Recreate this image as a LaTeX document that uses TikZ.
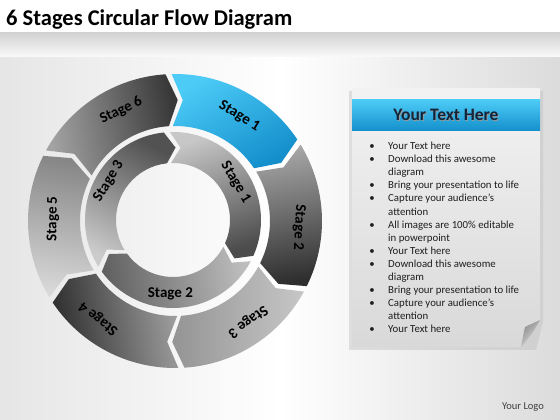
\documentclass[tikz,border=0pt]{standalone}
\usepackage{fontspec}
\setmainfont{Carlito}
\definecolor{bluelt}{HTML}{4CCBF6}
\definecolor{bluedk}{HTML}{148FCC}
\definecolor{navy}{HTML}{10253C}
\definecolor{txt}{HTML}{1E1E1E}
% #1 R, #2 r, #3 mid radius, #4 tail boundary, #5 head boundary, #6 tip depth, #7 half gap, #8 style
\newcommand{\chev}[8]{%
  \path[#8] ({#4+#6/2-#7}:#1) arc[start angle={#4+#6/2-#7}, end angle={#5+#6/2+#7}, radius=#1]
    -- ({#5-#6/2+#7}:#3) -- ({#5+#6/2+#7}:#2)
    arc[start angle={#5+#6/2+#7}, end angle={#4+#6/2-#7}, radius=#2]
    -- ({#4-#6/2-#7}:#3) -- cycle;}
\begin{document}
\begin{tikzpicture}[x=1pt,y=1pt,
  seglabel/.style={font=\bfseries\fontsize{15}{15}\selectfont, text=black, inner sep=0pt},
  bul/.style={font=\fontsize{10.8}{12}\selectfont, text=txt, anchor=base west, inner sep=0pt},
  bdot/.style={font=\fontsize{10.8}{12}\selectfont, text=txt, anchor=base, inner sep=0pt}]
\useasboundingbox (0,0) rectangle (560,420);
% background
\shade[left color=black!10, right color=black!14, middle color=white] (0,0) rectangle (560,420);
\shade[top color=black!18, bottom color=black!2] (0,363) rectangle (560,388);
\fill[white] (0,388) rectangle (560,420);
\node[anchor=base west, inner sep=0pt, font=\bfseries\fontsize{22.5}{24}\selectfont] (title) at (6,394) {6 Stages Circular Flow Diagram};

% outer ring
\begin{scope}[shift={(175,199)}]
  \chev{147}{95}{121}{150}{90}{5}{1.2}{top color=black!78, bottom color=black!36, shading angle=-80}
  \chev{147}{95}{121}{90}{30}{5}{1.2}{top color=bluelt, bottom color=bluedk, shading angle=30}
  \chev{147}{95}{121}{30}{-30}{5}{1.2}{top color=black!35, bottom color=black!82, shading angle=10}
  \chev{147}{95}{121}{-30}{-90}{5}{1.2}{top color=black!42, bottom color=black!22, shading angle=90}
  \chev{147}{95}{121}{-90}{-150}{5}{1.2}{top color=black!82, bottom color=black!38, shading angle=100}
  \chev{147}{95}{121}{-150}{-210}{5}{1.2}{top color=black!47, bottom color=black!15, shading angle=-10}
  \node[seglabel, rotate=-31.5] (o1) at (58.5:123) {Stage 1};
  \node[seglabel, rotate=-93] (o2) at (-3:124) {Stage 2};
  \node[seglabel, rotate=-144] (o3) at (-54:124) {Stage 3};
  \node[seglabel, rotate=142] (o4) at (-128:124) {Stage 4};
  \node[seglabel, rotate=89] (o5) at (179:122) {Stage 5};
  \node[seglabel, rotate=26] (o6) at (116:123) {Stage 6};
\end{scope}
% inner ring
\begin{scope}[shift={(173,200)}]
  \chev{88}{57}{72.5}{90}{-30}{8}{2}{top color=black!22, bottom color=black!70, shading angle=20}
  \chev{88}{57}{72.5}{-30}{-150}{8}{2}{top color=black!62, bottom color=black!26, shading angle=100}
  \chev{88}{57}{72.5}{-150}{-270}{8}{2}{top color=black!68, bottom color=black!20, shading angle=-30}
  \node[seglabel, rotate=-59] (i1) at (31:73) {Stage 1};
  \node[seglabel] (i2) at (-92:74) {Stage 2};
  \node[seglabel, rotate=59] (i3) at (149:75) {Stage 3};
\end{scope}

% paper panel
\fill[black!25, opacity=0.45] (349,70) -- (536,70) -- (543,98) -- (543,329) -- (349,329) -- cycle;
\shade[top color=black!5, bottom color=black!15] (352,332) -- (540,332) -- (540,100) .. controls (532,88) .. (521,73) -- (352,73) -- cycle;
\shade[top color=black!45, bottom color=black!12, shading angle=45] (540,100) .. controls (533,96) .. (525,93) .. controls (523,84) .. (521,73) .. controls (532,86) .. cycle;
\shade[top color=bluelt, bottom color=bluedk] (352,320) rectangle (540,289);
\node[font=\bfseries\fontsize{17.5}{18}\selectfont, text=black!40, inner sep=0pt] (hdrsh) at (446.8,304.2) {Your Text Here};
\node[font=\bfseries\fontsize{17.5}{18}\selectfont, text=navy, inner sep=0pt] (hdr) at (446,305) {Your Text Here};

\foreach \k/\b/\t in {0/1/Your Text here,
  1/1/Download this awesome,
  2/0/diagram,
  3/1/Bring your presentation to life,
  4/1/Capture your audience’s,
  5/0/attention,
  6/1/All images are 100\% editable,
  7/0/in powerpoint,
  8/1/Your Text here,
  9/1/Download this awesome,
  10/0/diagram,
  11/1/Bring your presentation to life,
  12/1/Capture your audience’s,
  13/0/attention,
  14/1/Your Text here}{
  \node[bul] (line\k) at (388,{420-146-13.1*\k-3.6}) {\t};
  \ifnum\b=1 \node[bdot] (dot\k) at (372,{420-146-13.1*\k-3.6}) {\textbullet};\fi
}
\node[font=\fontsize{10.5}{11}\selectfont, text=black!75, inner sep=0pt] (logo) at (523,13) {Your Logo};
\end{tikzpicture}
\end{document}
